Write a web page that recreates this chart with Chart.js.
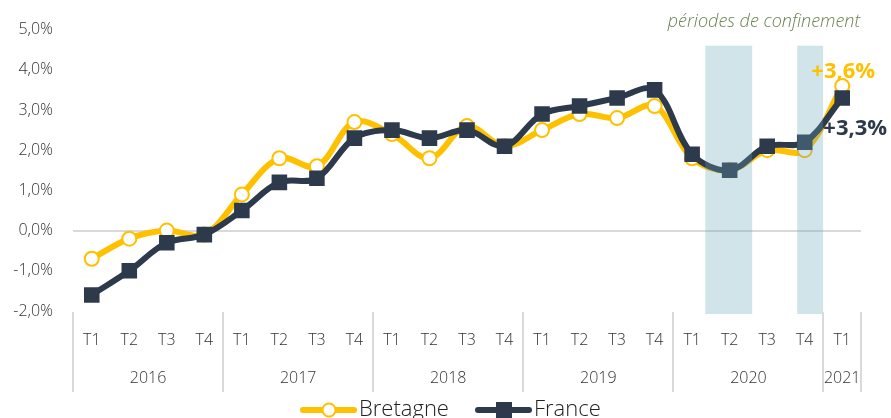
<!DOCTYPE html>
<html lang="fr">
<head>
<meta charset="utf-8">
<title>Bretagne / France</title>
<script src="https://cdn.jsdelivr.net/npm/chart.js@4"></script>
<style>
  html, body { margin: 0; padding: 0; background: #fff; }
  #wrap { width: 891px; height: 418px; position: relative; }
</style>
</head>
<body>
<div id="wrap"><canvas id="chart" width="891" height="418"></canvas></div>
<script>
  // ── Data ─────────────────────────────────────────
  const QUARTERS = ['T1','T2','T3','T4','T1','T2','T3','T4','T1','T2','T3','T4',
                    'T1','T2','T3','T4','T1','T2','T3','T4','T1'];
  const YEARS = ['2016', '2017', '2018', '2019', '2020', '2021'];
  const YEAR_SIZES = [4, 4, 4, 4, 4, 1];
  const BRETAGNE = [-0.7, -0.2, 0.0, -0.1, 0.9, 1.8, 1.6, 2.7, 2.4, 1.8, 2.6, 2.1,
                    2.5, 2.9, 2.8, 3.1, 1.8, 1.5, 2.0, 2.0, 3.6];
  const FRANCE = [-1.6, -1.0, -0.3, -0.1, 0.5, 1.2, 1.3, 2.3, 2.5, 2.3, 2.5, 2.1,
                  2.9, 3.1, 3.3, 3.5, 1.9, 1.5, 2.1, 2.2, 3.3];
  // confinement periods, as fractional category indexes
  const LOCKDOWNS = [[16.35, 17.6], [18.8, 19.49]];
  const Y_TICKS = [-2, -1, 0, 1, 2, 3, 4, 5];

  const YELLOW = '#FFC000';
  const NAVY = '#2D3A4C';
  const FONT = '"Open Sans", Lato, sans-serif';

  const fmtPct = v => v.toFixed(1).replace('.', ',') + '%';

  // bands over the lines, year groups, annotations and legend
  const decor = {
    id: 'decor',
    afterDatasetsDraw(chart) {
      const { ctx, chartArea: a, scales: { x, y } } = chart;
      const step = x.getPixelForValue(1) - x.getPixelForValue(0);
      const px = i => x.getPixelForValue(0) + i * step;

      ctx.save();
      ctx.fillStyle = 'rgba(104,166,182,0.3)';
      LOCKDOWNS.forEach(([s, e]) => {
        const top = y.getPixelForValue(4.6);
        ctx.fillRect(px(s), top, px(e) - px(s), a.bottom + 3 - top);
      });
      ctx.restore();
    },
    afterDraw(chart) {
      const { ctx, chartArea: a, scales: { x, y } } = chart;
      const step = x.getPixelForValue(1) - x.getPixelForValue(0);
      const edge = i => x.getPixelForValue(0) + (i - 0.5) * step;

      ctx.save();
      // year separators + labels
      ctx.strokeStyle = '#DADADA';
      ctx.lineWidth = 2;
      let idx = 0;
      const bounds = [0];
      YEAR_SIZES.forEach(n => { idx += n; bounds.push(idx); });
      bounds.forEach(b => {
        const xx = Math.round(edge(b));
        ctx.beginPath();
        ctx.moveTo(xx, a.bottom + 1);
        ctx.lineTo(xx, a.bottom + 81);
        ctx.stroke();
      });
      ctx.fillStyle = '#333';
      ctx.font = '300 16px ' + FONT;
      ctx.textAlign = 'center';
      ctx.textBaseline = 'middle';
      YEARS.forEach((yr, i) => {
        ctx.fillText(yr, (edge(bounds[i]) + edge(bounds[i + 1])) / 2, a.bottom + 67);
      });

      // caption above the bands
      ctx.fillStyle = '#6B8450';
      ctx.font = 'italic 300 18px ' + FONT;
      ctx.fillText('périodes de confinement', 764, 22);

      // end-point labels
      const last = QUARTERS.length - 1;
      const lx = x.getPixelForValue(last);
      ctx.font = 'bold 22px ' + FONT;
      ctx.fillStyle = YELLOW;
      ctx.fillText('+' + fmtPct(BRETAGNE[last]), lx + 1, y.getPixelForValue(BRETAGNE[last]) - 14);
      ctx.fillStyle = NAVY;
      ctx.fillText('+' + fmtPct(FRANCE[last]), lx + 13, y.getPixelForValue(FRANCE[last]) + 31);

      // legend
      const ly = 410;
      const items = [
        { label: 'Bretagne', color: YELLOW, x0: 300, square: false },
        { label: 'France', color: NAVY, x0: 475, square: true },
      ];
      ctx.font = '300 22px ' + FONT;
      ctx.textAlign = 'left';
      items.forEach(it => {
        ctx.strokeStyle = it.color;
        ctx.lineWidth = 6;
        ctx.lineCap = 'round';
        ctx.beginPath();
        ctx.moveTo(it.x0 + 3, ly);
        ctx.lineTo(it.x0 + 54, ly);
        ctx.stroke();
        const cx = it.x0 + 29;
        if (it.square) {
          ctx.fillStyle = it.color;
          ctx.fillRect(cx - 8, ly - 8, 16, 16);
        } else {
          ctx.fillStyle = '#fff';
          ctx.lineWidth = 2;
          ctx.beginPath();
          ctx.arc(cx, ly, 6.5, 0, Math.PI * 2);
          ctx.fill();
          ctx.stroke();
        }
        ctx.fillStyle = '#222';
        ctx.fillText(it.label, it.x0 + 59, ly);
      });
      ctx.restore();
    }
  };

  new Chart(document.getElementById('chart'), {
    type: 'line',
    data: {
      labels: QUARTERS,
      datasets: [
        {
          label: 'Bretagne',
          data: BRETAGNE,
          borderColor: YELLOW,
          borderWidth: 6,
          tension: 0.35,
          pointStyle: 'circle',
          pointRadius: 7,
          pointBorderWidth: 2,
          pointBackgroundColor: '#fff',
          pointBorderColor: YELLOW,
          order: 1,
        },
        {
          label: 'France',
          data: FRANCE,
          borderColor: NAVY,
          borderWidth: 6,
          tension: 0.35,
          pointStyle: 'rect',
          pointRadius: 11,
          pointBorderWidth: 0,
          pointBackgroundColor: NAVY,
          pointBorderColor: NAVY,
          order: 0,
        },
      ]
    },
    options: {
      responsive: false,
      animation: false,
      layout: { padding: { top: 25, right: 30, left: 0, bottom: 0 } },
      plugins: {
        legend: { display: false },
        tooltip: { enabled: false },
      },
      scales: {
        x: {
          offset: true,
          grid: { display: false, drawTicks: false },
          border: { display: false },
          ticks: { color: '#333', font: { size: 16, family: FONT, weight: 300 }, padding: 20, maxRotation: 0, autoSkip: false },
          afterFit: s => { s.height = 107; },
        },
        y: {
          min: -2,
          max: 5,
          afterBuildTicks: s => { s.ticks = Y_TICKS.map(v => ({ value: v })); },
          border: { display: false },
          grid: {
            drawTicks: false,
            lineWidth: 2,
            color: c => c.tick && c.tick.value === 0 ? '#D9D9D9' : 'rgba(0,0,0,0)',
          },
          ticks: { color: '#333', font: { size: 16, family: FONT, weight: 300 }, padding: 20, callback: v => fmtPct(v) },
          afterFit: s => { s.width = 73; },
        },
      },
    },
    plugins: [decor],
  });
</script>
</body>
</html>
